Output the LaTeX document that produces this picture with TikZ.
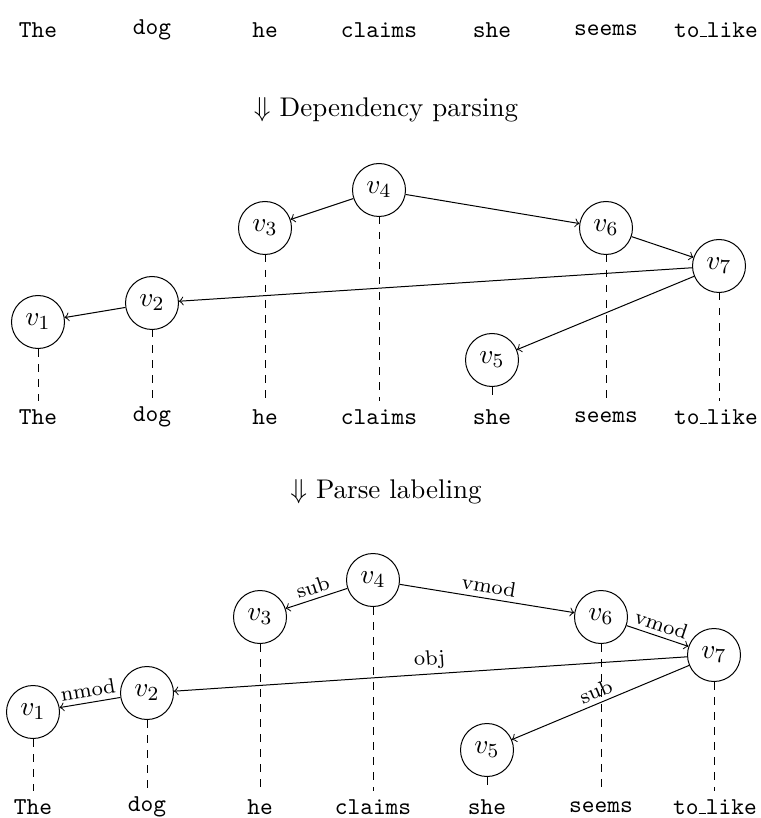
\documentclass[tikz,border=0pt]{standalone}
\newcommand{\myus}{\vbox{\hrule width .3em}}
\begin{document}
\begin{tikzpicture}[x=0.4pt,y=-0.4pt,
  vtx/.style={circle,draw,minimum size=21.2pt,inner sep=0pt,font=\fontsize{10.8}{13}\selectfont},
  word/.style={font=\ttfamily\fontsize{9.7}{12}\selectfont},
  arr/.style={->},
  lnk/.style={dashed},
  lab/.style={font=\fontsize{8.4}{10}\selectfont,above,sloped,midway,inner sep=1.8pt},
  hdr/.style={font=\fontsize{10.8}{13}\selectfont}]
\useasboundingbox (0,0) rectangle (760,818);
% top row
\node[word] (t1) at (38,30) {The};
\node[word] (t2) at (152,30) {dog};
\node[word] (t3) at (265,30) {he};
\node[word] (t4) at (379,30) {claims};
\node[word] (t5) at (492,30) {she};
\node[word] (t6) at (606,30) {seems};
\node[word] (t7) at (716,30) {to\myus like};
\node[hdr] (h1) at (386,110) {$\Downarrow$ Dependency parsing};
% middle
\node[word] (m1) at (38,417) {The};
\node[word] (m2) at (152,417) {dog};
\node[word] (m3) at (265,417) {he};
\node[word] (m4) at (379,417) {claims};
\node[word] (m5) at (492,417) {she};
\node[word] (m6) at (606,417) {seems};
\node[word] (m7) at (716,417) {to\myus like};
\node[vtx] (a1) at (38,322) {$v_1$};
\node[vtx] (a2) at (152,303) {$v_2$};
\node[vtx] (a3) at (265,228) {$v_3$};
\node[vtx] (a4) at (379,190) {$v_4$};
\node[vtx] (a5) at (492,360) {$v_5$};
\node[vtx] (a6) at (606,228) {$v_6$};
\node[vtx] (a7) at (719,266) {$v_7$};
\foreach \i in {1,...,7} \draw[lnk] (a\i.south) -- (a\i.south |- m\i.north);
\draw[arr] (a4) -- (a3);
\draw[arr] (a4) -- (a6);
\draw[arr] (a6) -- (a7);
\draw[arr] (a7) -- (a2);
\draw[arr] (a7) -- (a5);
\draw[arr] (a2) -- (a1);
\node[hdr] (h2) at (386,492) {$\Downarrow$ Parse labeling};
% bottom
\node[word] (b1) at (33,807) {The};
\node[word] (b2) at (147,807) {dog};
\node[word] (b3) at (260,807) {he};
\node[word] (b4) at (373,807) {claims};
\node[word] (b5) at (487,807) {she};
\node[word] (b6) at (601,807) {seems};
\node[word] (b7) at (715,807) {to\myus like};
\node[vtx] (c1) at (33,712) {$v_1$};
\node[vtx] (c2) at (147,693) {$v_2$};
\node[vtx] (c3) at (260,617) {$v_3$};
\node[vtx] (c4) at (373,580) {$v_4$};
\node[vtx] (c5) at (487,750) {$v_5$};
\node[vtx] (c6) at (601,617) {$v_6$};
\node[vtx] (c7) at (714,655) {$v_7$};
\foreach \i in {1,...,7} \draw[lnk] (c\i.south) -- (c\i.south |- b\i.north);
\draw[arr] (c4) -- node[lab] {sub} (c3);
\draw[arr] (c4) -- node[lab] {vmod} (c6);
\draw[arr] (c6) -- node[lab] {vmod} (c7);
\draw[arr] (c7) -- node[lab] {obj} (c2);
\draw[arr] (c7) -- node[lab] {sub} (c5);
\draw[arr] (c2) -- node[lab] {nmod} (c1);
\end{tikzpicture}
\end{document}
